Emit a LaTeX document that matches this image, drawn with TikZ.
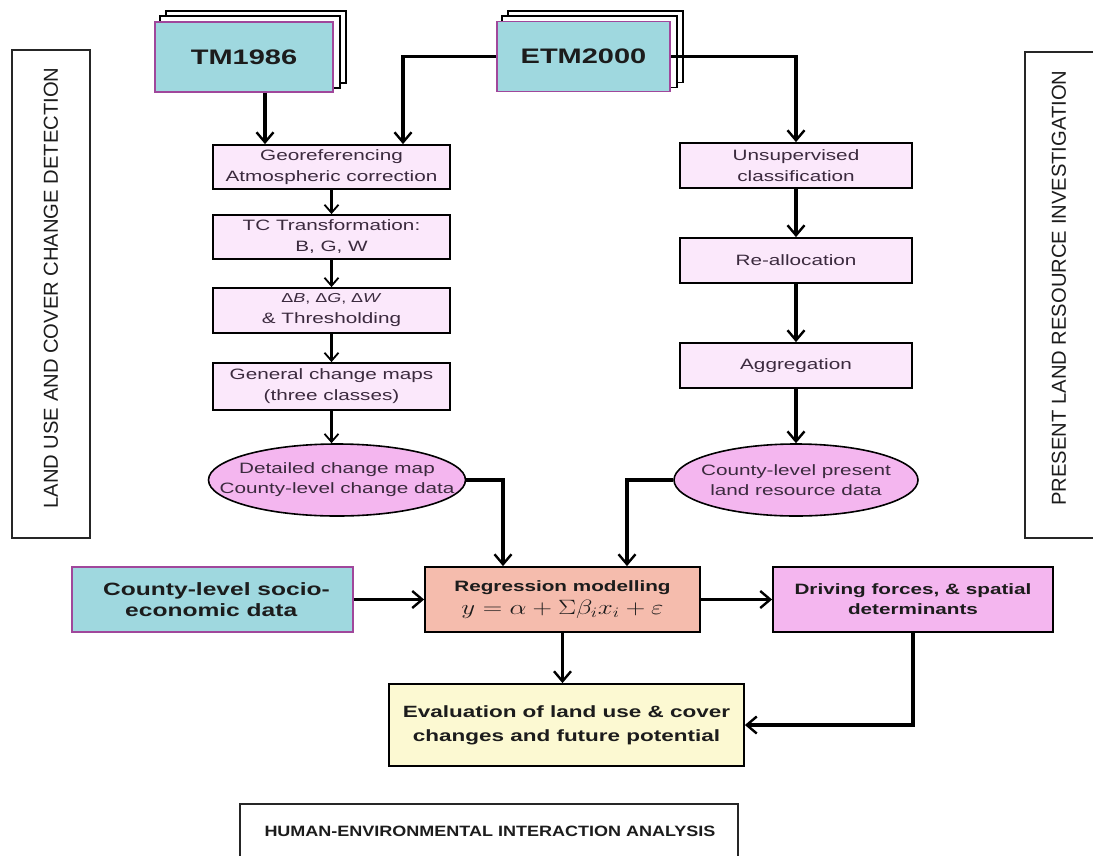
\documentclass[tikz,border=0pt]{standalone}
\usepackage{fontspec}
\usepackage{graphicx}
\setmainfont{Liberation Sans}
\newfontfamily\wideA[FakeStretch=1.38]{Liberation Sans}
\newfontfamily\wideB[FakeStretch=1.2]{Liberation Sans}
\usetikzlibrary{arrows.meta,shapes.geometric,backgrounds}
\definecolor{cyanbox}{HTML}{9FD8DF}
\definecolor{purpline}{HTML}{A0479B}
\definecolor{lpink}{HTML}{FBE8FB}
\definecolor{mpink}{HTML}{F4B6EF}
\definecolor{salmon}{HTML}{F5BCAD}
\definecolor{lyellow}{HTML}{FCF9D2}
\definecolor{txtpurp}{HTML}{3B2A3E}
\definecolor{txtdark}{HTML}{1C1C1C}
\tikzset{
  srcbox/.style={draw=purpline, line width=1.6pt, fill=cyanbox, text=txtdark, inner sep=0pt, align=center},
  procbox/.style={draw=black, line width=1.8pt, fill=lpink, text=txtpurp, inner sep=0pt, align=center,
    font=\wideA\fontsize{15}{21}\selectfont},
  ellbox/.style={ellipse, draw=black, line width=1.6pt, fill=mpink, inner sep=0pt},
  elltext/.style={text=txtpurp, inner sep=0pt, align=center, font=\wideA\fontsize{15}{20}\selectfont},
  boldbox/.style={draw=black, line width=1.8pt, inner sep=0pt, align=center, text=txtdark,
    font=\wideA\bfseries\fontsize{15}{20}\selectfont},
  labelbox/.style={draw=black!85, line width=1.5pt},
  flow/.style={-{Straight Barb[length=10pt,width=17pt,line width=2.4pt]}, line width=3.2pt},
  smallflow/.style={-{Straight Barb[length=8pt,width=14pt,line width=1.8pt]}, line width=2.2pt},
  stack/.style={draw=black, line width=1.6pt, fill=white}
}
\begin{document}
\begin{tikzpicture}[x=1pt,y=-1pt]
\useasboundingbox (0,0) rectangle (1093,855);
\clip (0,0) rectangle (1093,855);

% side labels
\draw[labelbox] (12,50) rectangle (90,538);
\node[rotate=90, text=txtdark, font=\fontsize{20.2}{22}\selectfont] (lbl1) at (51,288) {LAND USE AND COVER CHANGE DETECTION};
\draw[labelbox] (1025,52) rectangle (1110,538);
\node[rotate=90, text=txtdark, font=\fontsize{20.2}{22}\selectfont] (lbl2) at (1059,288) {PRESENT LAND RESOURCE INVESTIGATION};
\draw[labelbox] (240,804) rectangle (738,880);
\node[text=txtdark, font=\wideB\bfseries\fontsize{15}{17}\selectfont] (lbl3) at (490,831) {HUMAN-ENVIRONMENTAL INTERACTION ANALYSIS};

% image sources
\node[srcbox, minimum width=178pt, minimum height=70pt, font=\wideA\bfseries\fontsize{21}{24}\selectfont] (tm) at (244,57) {TM1986};
\node[srcbox, minimum width=173pt, minimum height=70pt, font=\wideA\bfseries\fontsize{21}{24}\selectfont] (etm) at (583.5,56.5) {ETM2000};
\begin{scope}[on background layer]
  \draw[stack] ([shift={(12,-10)}]tm.south west) rectangle ([shift={(12,-10)}]tm.north east);
  \draw[stack] ([shift={(6,-5)}]tm.south west) rectangle ([shift={(6,-5)}]tm.north east);
  \draw[stack] ([shift={(12,-10)}]etm.south west) rectangle ([shift={(12,-10)}]etm.north east);
  \draw[stack] ([shift={(6,-5)}]etm.south west) rectangle ([shift={(6,-5)}]etm.north east);
\end{scope}

% left column
\node[procbox, minimum width=237pt, minimum height=44pt] (geo) at (331.5,167) {Georeferencing\\Atmospheric correction};
\node[procbox, minimum width=237pt, minimum height=44pt] (tc) at (331.5,237) {TC Transformation:\\B, G, W};
\node[procbox, minimum width=237pt, minimum height=45pt] (dlt) at (331.5,310.5) {{\fontsize{13}{14}\selectfont Δ\textit{B}, Δ\textit{G}, Δ\textit{W}}\\\& Thresholding};
\node[procbox, minimum width=237pt, minimum height=47pt] (gen) at (331.5,386.5) {General change maps\\(three classes)};
\node[ellbox, minimum width=257pt, minimum height=72pt] (ell1) at (337,480) {};
\node[elltext] (ell1t) at (ell1.center) {Detailed change map\\County-level change data};

% right column
\node[procbox, minimum width=232pt, minimum height=45pt] (uns) at (796,165.5) {Unsupervised\\classification};
\node[procbox, minimum width=232pt, minimum height=45pt] (rea) at (796,260.5) {Re-allocation};
\node[procbox, minimum width=232pt, minimum height=45pt] (agg) at (796,365.5) {Aggregation};
\node[ellbox, minimum width=244pt, minimum height=72pt] (ell2) at (796,480) {};
\node[elltext] (ell2t) at (ell2.center) {County-level present\\land resource data};

% lower row
\node[srcbox, minimum width=281pt, minimum height=65pt] (soc) at (212.5,599.5) {};
\node[text=txtdark, inner sep=0pt, align=left, font=\wideA\bfseries\fontsize{17.8}{21}\selectfont] (soct) at ([xshift=4pt]soc.center) {County-level socio-\\\hspace*{22pt}economic data};
\node[boldbox, fill=salmon, minimum width=275pt, minimum height=65pt] (reg) at (562.5,599.5)
  {Regression modelling\\[3pt]{\mdseries\scalebox{1.3}[1]{\fontsize{21}{22}\selectfont$y=\alpha+\Sigma\beta_{i}x_{i}+\varepsilon$}}};
\node[boldbox, fill=mpink, minimum width=280pt, minimum height=65pt] (drv) at (913,599.5) {Driving forces, \& spatial\\determinants};
\node[boldbox, fill=lyellow, minimum width=355pt, minimum height=82pt, font=\wideA\bfseries\fontsize{16.3}{24}\selectfont] (eval) at (566.5,725) {Evaluation of land use \& cover\\changes and future potential};

% connectors
\draw[flow] ([xshift=21pt]tm.south) -- ([xshift=-66.5pt]geo.north);
\draw[flow] (etm.west) -| ([xshift=71.5pt]geo.north);
\draw[flow] (etm.east) -| (uns.north);
\draw[smallflow] (geo) -- (tc);
\draw[smallflow] (tc) -- (dlt);
\draw[smallflow] (dlt) -- (gen);
\draw[smallflow] (gen.south) -- (gen.south |- ell1.north);
\draw[flow] (uns) -- (rea);
\draw[flow] (rea) -- (agg);
\draw[flow] (agg.south) -- (agg.south |- ell2.north);
\draw[flow] (ell1.east) -| ([xshift=-59.5pt]reg.north);
\draw[flow] (ell2.west) -| ([xshift=64.5pt]reg.north);
\draw[flow, line width=2.6pt] (soc.east) -- (reg.west);
\draw[flow, line width=2.6pt] (reg) -- (drv);
\draw[flow] (reg.south) -- (reg.south |- eval.north);
\draw[flow] (drv.south) |- (eval.east);
\end{tikzpicture}
\end{document}
